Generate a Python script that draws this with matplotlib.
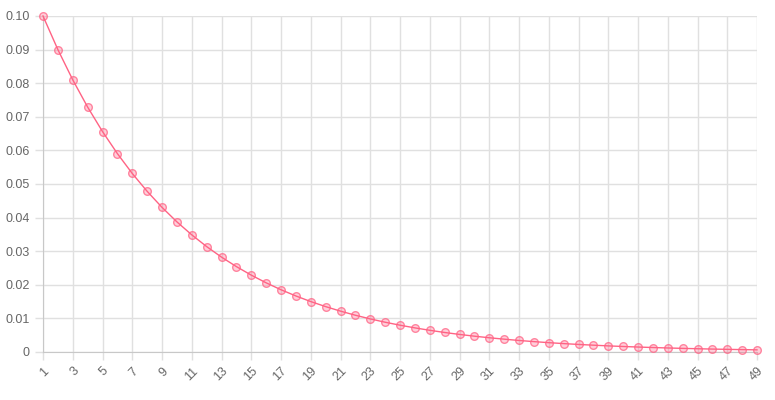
import matplotlib.pyplot as plt

plt.rcParams['font.family'] = ['Liberation Sans', 'DejaVu Sans']

steps = list(range(1, 50))
values = [
    0.1, 0.09, 0.081, 0.0729, 0.06561, 0.05905, 0.05314, 0.04783, 0.04305, 0.03874,
    0.03487, 0.03138, 0.02824, 0.02542, 0.02288, 0.02059, 0.01853, 0.01668, 0.01501, 0.01351,
    0.01216, 0.01094, 0.00985, 0.00886, 0.00798, 0.00718, 0.00646, 0.00581, 0.00523, 0.00471,
    0.00424, 0.00382, 0.00343, 0.00309, 0.00278, 0.00250, 0.00225, 0.00203, 0.00182, 0.00164,
    0.00148, 0.00133, 0.00120, 0.00108, 0.00097, 0.00087, 0.00079, 0.00071, 0.00064,
]
x_labels = [str(s) for s in steps[::2]]
y_ticks = [0, 0.01, 0.02, 0.03, 0.04, 0.05, 0.06, 0.07, 0.08, 0.09, 0.10]
y_labels = ['0', '0.01', '0.02', '0.03', '0.04', '0.05', '0.06', '0.07', '0.08', '0.09', '0.10']

fig = plt.figure(figsize=(7.75, 4), dpi=100)
ax = fig.add_axes([43 / 775, 48 / 400, 714 / 775, 336 / 400])

# points first, then the line over them
ax.plot(steps, values, linestyle='none',
        marker='o', markersize=5.5, markerfacecolor=(1, 0.39, 0.52, 0.3),
        markeredgecolor=(1, 0.39, 0.52, 0.75), markeredgewidth=1, clip_on=False, zorder=3)
ax.plot(steps, values, color='#ff6384', linewidth=1, clip_on=False, zorder=4)

ax.set_xlim(1, 49)
ax.set_ylim(0, 0.10)
ax.set_xticks(steps[::2])
ax.set_xticklabels(x_labels, rotation=45, ha='right', rotation_mode='anchor')
ax.set_yticks(y_ticks)
ax.set_yticklabels(y_labels)

ax.grid(True, color='#e0e0e0', linewidth=1)
ax.tick_params(colors='#e0e0e0', labelcolor='#666666', labelsize=9, length=6, width=1)
for side in ['top', 'right']:
    ax.spines[side].set_visible(False)
for side in ['left', 'bottom']:
    ax.spines[side].set_color('#c8c8c8')
ax.set_axisbelow(True)

fig.savefig('out.png', dpi=100)
